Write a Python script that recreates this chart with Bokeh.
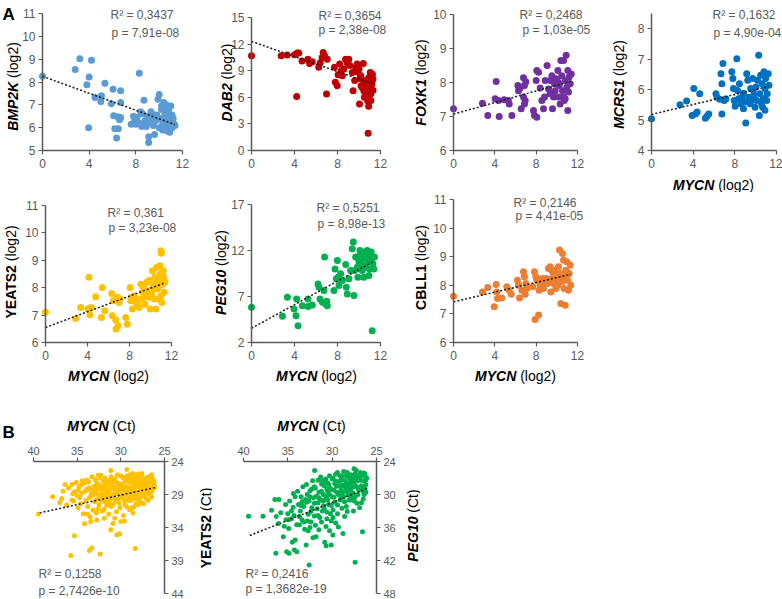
import math
from bokeh.plotting import figure
from bokeh.models import Range1d, FixedTicker, Label
from bokeh.layouts import column, row
from bokeh.embed import file_html
from bokeh.resources import INLINE

# ---------------- data ----------------
BMP2K_PTS = [(0,8.25),(2.8,8.55),(3.2,9.02),(4.2,8.95),(4.0,8.22),(3.8,7.88),(3.95,6.0),(4.5,7.32),(5.05,7.4),(5.0,7.15),(5.35,7.95),(6.05,7.68),(6.7,7.62),(5.9,7.05),(6.1,6.52),(6.45,6.48),(6.2,5.95),(6.5,5.95),(6.35,5.55),(6.7,6.45),(6.6,6.35),(6.7,7.1),(7.6,6.15),(7.8,6.5),(7.9,6.3),(8.0,6.15),(8.1,6.45),(8.3,6.2),(8.3,8.38),(8.5,6.05),(8.6,6.6),(8.7,7.2),(8.8,6.3),(8.9,6.05),(9.0,6.5),(9.1,5.6),(9.1,5.35),(9.2,6.25),(9.3,6.7),(9.4,6.45),(9.5,6.1),(9.6,5.7),(9.7,6.3),(9.8,6.55),(9.9,7.25),(10.0,6.0),(10.0,7.45),(10.1,6.4),(10.2,6.8),(10.3,6.2),(10.3,5.9),(10.4,7.1),(10.5,6.6),(10.5,6.05),(10.6,6.9),(10.6,7.0),(10.7,5.85),(10.7,6.3),(10.8,6.75),(10.8,6.1),(10.9,6.5),(10.9,5.8),(11.0,6.95),(11.0,6.2),(11.1,6.55),(11.1,6.0),(11.2,6.4),(11.3,6.15),(11.35,6.1),(10.4,6.45),(9.6,6.55),(8.6,6.15),(8.4,6.7),(10.2,6.95)]
DAB2_PTS = [(0,10.69),(2.76,10.69),(3.32,10.76),(4.0,10.8),(4.25,10.99),(4.4,11.0),(4.2,6.08),(4.7,10.1),(5.25,10.3),(5.4,9.8),(5.65,10.0),(6.26,9.38),(6.57,10.5),(6.67,11.06),(6.8,10.7),(7.05,10.3),(6.98,6.38),(6.4,9.9),(7.72,9.4),(7.8,7.7),(7.97,7.3),(8.06,8.55),(8.2,9.75),(8.35,9.0),(8.45,8.44),(8.6,9.2),(8.75,10.3),(8.9,9.9),(9.05,10.3),(9.15,9.6),(9.37,8.8),(9.45,6.75),(9.6,7.9),(9.7,9.4),(9.83,8.85),(10.0,9.2),(10.05,5.25),(10.15,8.45),(10.3,7.1),(10.4,9.8),(10.45,7.9),(10.5,6.0),(10.6,7.3),(10.7,6.75),(10.75,7.6),(10.8,5.6),(10.85,1.95),(10.9,8.2),(10.95,6.9),(11.05,8.8),(11.1,6.4),(11.2,7.5),(11.3,8.05),(11.1,5.65),(10.9,5.0),(10.65,6.1),(10.45,6.7),(10.2,7.3),(9.83,9.75),(10.1,8.1),(11.2,7.7),(11.3,6.8),(11.25,8.6),(11.0,7.4)]
FOXK1_PTS = [(0,7.23),(2.8,7.39),(3.32,7.03),(4.13,8.03),(4.03,7.52),(4.42,7.0),(4.35,7.47),(4.9,7.49),(5.3,7.47),(5.39,7.37),(5.65,7.03),(6.23,7.91),(6.29,7.76),(6.45,7.84),(6.55,7.23),(6.77,8.14),(6.87,7.91),(6.77,7.57),(6.94,7.47),(6.87,7.37),(7.0,8.02),(7.74,7.18),(7.84,7.03),(8.06,6.98),(8.0,8.06),(8.06,8.35),(8.23,8.3),(8.39,7.84),(8.55,7.47),(8.71,7.23),(8.81,7.57),(8.87,8.06),(9.06,8.5),(9.2,7.81),(9.35,7.67),(9.35,8.06),(9.52,8.2),(9.58,7.23),(9.68,7.57),(9.77,7.96),(9.84,7.76),(10.0,8.1),(10.1,8.35),(10.16,7.57),(10.23,7.91),(10.32,7.37),(10.39,8.65),(10.48,8.2),(10.55,7.76),(10.65,8.65),(10.71,7.47),(10.81,8.06),(10.9,8.8),(10.97,7.86),(11.06,8.35),(11.06,7.18),(11.13,7.72),(11.19,8.16),(11.3,7.96),(11.39,8.25),(10.65,7.57),(10.16,8.0),(9.9,8.1),(10.81,7.52)]
MCRS1_PTS = [(0,5.04),(2.73,5.5),(3.37,5.62),(4.06,6.03),(3.9,5.15),(4.22,5.2),(4.38,5.26),(4.63,5.86),(5.17,5.06),(5.33,5.12),(5.49,5.2),(6.19,5.86),(6.29,5.75),(6.54,5.68),(6.67,6.52),(6.76,6.19),(6.86,6.85),(6.76,5.2),(6.98,5.64),(7.14,5.69),(7.71,6.58),(7.81,6.36),(7.87,6.03),(7.94,5.64),(8.03,5.45),(8.19,7.01),(8.25,5.97),(8.35,5.7),(8.44,6.19),(8.57,5.53),(8.67,5.75),(8.83,5.88),(8.98,5.59),(9.05,4.9),(9.14,6.52),(9.24,6.3),(9.33,5.75),(9.46,5.53),(9.52,6.03),(9.62,5.64),(9.71,6.36),(9.84,5.81),(9.94,5.42),(10.03,6.08),(10.1,5.64),(10.19,6.3),(10.29,7.12),(10.35,5.15),(10.41,5.86),(10.48,6.47),(10.57,5.53),(10.63,6.19),(10.73,5.7),(10.79,6.58),(10.89,6.03),(10.95,6.36),(11.05,5.64),(11.11,5.86),(11.21,6.52),(11.27,6.14),(10.67,5.42),(10.89,5.32),(9.78,5.97),(8.83,5.37)]
YEATS2_PTS = [(0,7.1),(2.87,6.88),(3.34,7.28),(4.14,8.38),(4.04,7.22),(4.24,7.01),(4.36,7.28),(4.78,7.67),(5.32,6.91),(5.41,8.01),(5.64,7.16),(6.3,7.79),(6.37,6.98),(6.46,7.52),(6.69,6.82),(6.72,6.49),(6.91,6.61),(6.85,7.65),(7.0,7.46),(7.1,7.59),(7.64,6.91),(7.8,6.67),(8.06,8.01),(8.12,7.52),(8.18,7.65),(8.28,7.22),(8.44,7.71),(8.6,7.46),(8.76,7.59),(8.92,7.28),(9.08,8.13),(9.24,7.83),(9.33,8.01),(9.46,7.4),(9.55,7.71),(9.65,8.2),(9.71,7.89),(9.87,8.26),(9.97,7.22),(10.1,7.77),(10.19,8.62),(10.29,8.07),(10.35,7.59),(10.41,8.38),(10.51,7.22),(10.6,8.74),(10.67,7.95),(10.73,8.26),(10.83,7.59),(10.89,8.8),(10.92,8.5),(10.99,9.35),(11.05,9.26),(11.08,7.46),(11.15,8.13),(11.21,8.62),(11.27,8.38),(11.31,7.83),(11.37,8.2),(10.83,8.07),(10.51,8.2),(10.19,7.95),(9.87,7.65),(9.24,7.59),(8.76,7.4),(10.99,7.71)]
PEG10_PTS = [(0,5.82),(2.88,4.84),(3.34,6.92),(3.96,5.64),(4.14,4.91),(4.2,6.73),(4.33,3.82),(4.73,6.0),(5.26,6.73),(5.26,5.9),(5.66,6.08),(6.19,8.37),(6.28,8.0),(6.37,6.73),(6.6,6.37),(6.74,7.64),(6.8,11.28),(6.9,6.19),(7.0,6.48),(7.05,6.0),(7.67,7.64),(7.77,10.0),(7.9,8.92),(7.99,10.92),(8.05,9.1),(8.14,8.19),(8.29,9.46),(8.45,8.74),(8.76,10.48),(8.82,8.0),(8.91,7.28),(9.06,8.92),(9.22,9.83),(9.37,12.19),(9.47,12.92),(9.53,7.1),(9.59,9.83),(9.69,11.28),(9.84,10.19),(9.9,9.1),(10.0,10.74),(10.09,12.01),(10.15,10.0),(10.2,11.65),(10.3,11.1),(10.39,10.37),(10.45,9.1),(10.51,11.83),(10.61,10.19),(10.7,11.28),(10.76,12.01),(10.86,10.74),(10.92,11.65),(11.0,10.0),(11.07,11.1),(11.13,11.83),(11.23,3.28),(11.29,10.56),(11.38,10.0),(11.44,11.28),(9.84,11.28),(10.3,9.83),(10.92,9.28)]
CBLL1_PTS = [(0,7.62),(2.8,7.77),(3.32,7.92),(4.13,8.03),(4.19,7.77),(3.94,7.25),(4.26,7.54),(4.68,7.56),(5.16,7.95),(5.39,7.83),(5.58,7.69),(6.19,8.18),(6.29,8.0),(6.39,7.56),(6.61,7.83),(6.77,8.47),(6.87,8.3),(6.94,7.69),(7.1,7.89),(7.0,8.06),(7.68,7.95),(7.84,8.47),(7.9,6.8),(7.97,8.3),(8.06,8.18),(8.23,6.96),(8.29,7.83),(8.39,8.0),(8.55,8.24),(8.71,7.89),(8.81,8.12),(8.97,8.24),(9.1,8.06),(9.19,8.59),(9.35,8.65),(9.42,7.77),(9.52,8.24),(9.58,8.47),(9.68,8.06),(9.77,8.53),(9.84,8.18),(10.0,8.35),(10.1,8.0),(10.16,8.65),(10.26,9.23),(10.32,8.41),(10.39,7.36),(10.48,8.12),(10.55,9.11),(10.65,8.88),(10.71,7.89),(10.81,7.3),(10.87,8.53),(10.97,8.82),(11.03,8.18),(11.13,7.83),(11.19,8.41),(11.29,8.71),(11.35,8.0),(10.97,8.3),(10.65,8.3),(10.16,8.3),(9.9,7.89)]

YEATS2_CT_PTS = [(39.43,31.95),(37.82,29.35),(36.76,29.6),(36.37,27.5),(35.99,28.0),(35.61,29.85),(35.31,35.25),(35.73,38.25),(33.59,37.5),(33.32,37.1),(32.37,38.0),(28.36,37.2),(31.15,34.35),(30.46,35.1),(30.15,34.95),(30.0,33.1),(34.16,33.45),(33.44,33.1),(32.75,32.85),(31.15,25.35),(29.31,25.2),
 (36.2,30.6),(35.6,27.5),(35.3,28.6),(35.0,29.2),(34.8,27.9),(34.6,30.4),(34.5,28.8),(34.3,31.9),(34.2,27.3),(34.0,29.9),(35.4,30.0),(34.9,31.0),(34.4,26.9),(35.1,27.2),(34.7,29.5),
 (33.9,28.2),(33.8,30.8),(33.7,27.1),(33.6,29.5),(33.5,32.4),(33.4,28.6),(33.3,26.3),(33.2,31.4),(33.1,27.8),(33.0,30.1),(33.8,32.0),(33.4,29.2),(33.9,26.8),(33.1,29.0),
 (32.9,26.8),(32.8,28.9),(32.6,27.4),(32.5,30.6),(32.4,29.0),(32.3,26.1),(32.2,28.3),(32.1,31.5),(32.0,27.0),(32.9,29.9),(32.6,31.2),(32.3,27.9),(32.05,29.5),(32.7,28.1),(32.4,26.5),(32.2,30.0),
 (31.9,28.7),(31.8,26.5),(31.7,30.2),(31.6,27.6),(31.5,29.3),(31.4,32.0),(31.3,26.9),(31.2,28.1),(31.1,30.8),(31.9,31.2),(31.5,27.2),(31.3,29.9),(31.6,28.4),(31.1,26.3),(31.8,29.6),(31.4,27.0),(31.7,28.9),
 (30.9,27.8),(30.8,29.6),(30.7,26.6),(30.6,28.5),(30.5,31.6),(30.3,27.3),(30.2,29.0),(30.0,26.2),(30.9,30.5),(30.6,27.0),(30.4,28.9),(30.2,30.3),(30.0,28.0),(30.7,32.6),(30.8,26.9),(30.5,28.2),(30.1,27.5),(30.3,29.7),
 (29.9,27.4),(29.8,29.3),(29.7,26.5),(29.6,28.3),(29.5,30.6),(29.4,27.8),(29.3,29.8),(29.2,26.9),(29.1,28.7),(29.0,31.3),(29.0,27.1),(29.8,28.1),(29.6,30.0),(29.3,26.2),(29.1,29.5),(29.5,27.0),(29.7,32.2),(29.4,28.8),(29.9,26.3),(29.2,27.9),
 (28.9,26.6),(28.8,28.4),(28.7,27.3),(28.6,29.6),(28.5,26.1),(28.4,28.0),(28.3,30.4),(28.2,27.5),(28.1,29.0),(28.0,26.4),(28.9,29.9),(28.7,31.0),(28.5,27.8),(28.3,28.6),(28.1,26.9),(28.6,25.8),(28.0,30.5),(28.8,27.0),(28.4,29.2),(28.2,26.2),
 (27.9,27.1),(27.8,28.5),(27.7,26.2),(27.6,29.3),(27.5,27.6),(27.4,28.8),(27.3,26.6),(27.2,28.0),(27.1,29.6),(27.0,26.9),(27.9,29.8),(27.6,25.8),(27.4,30.4),(27.2,27.3),(27.0,28.3),(27.8,26.0),(27.5,28.9),(27.3,27.8),
 (26.9,27.5),(26.8,26.3),(26.7,28.6),(26.6,27.1),(26.5,29.4),(26.4,26.6),(26.3,28.0),(26.2,27.4),(26.1,27.9),(26.6,29.0),(26.9,29.9),(26.4,28.4),(26.8,27.0),(26.5,26.0),
 (32.8,27.5),(32.6,29.6),(32.4,27.7),(32.2,29.2),(32.0,28.4),(31.8,27.8),(31.6,30.6),(31.4,28.6),(31.2,29.4),(31.0,27.4),(31.0,29.0),(30.8,28.1),(30.6,30.0),(30.4,27.6),(30.2,28.3),(30.0,29.4),(29.8,27.7),(29.6,29.1),(29.4,26.6),(29.2,28.2),(29.0,29.9),(28.8,29.0),(28.6,27.0),(28.4,26.6),(28.2,29.6),(28.0,27.8),(27.8,27.3),(27.6,28.1),(27.4,27.0),(27.2,29.0),(27.0,27.6),(26.8,28.2),(26.6,26.5),(26.4,27.9),(26.2,26.9),(27.7,27.0),(28.9,28.0),(29.9,29.0),(30.9,29.1),(31.9,27.3),(32.9,28.6),(33.6,28.0),(34.1,28.5),(34.6,27.6),(33.2,28.2),(30.1,31.0),(29.3,30.9),(28.5,30.9),(27.7,30.2),(26.9,28.7),(27.1,26.5),(28.0,25.9),(29.0,26.0),(30.4,26.0),(32.6,26.1),(31.4,30.4),(32.8,31.8),(31.9,32.6),(30.9,33.4),(29.6,33.0),(28.6,31.8),(34.9,28.4),(35.5,28.9),(36.6,28.5),(37.0,30.2)]
PEG10_CT_PTS = [(39.43,33.94),(37.8,33.94),(36.84,32.86),(36.46,30.93),(36.0,30.93),(35.25,31.83),(36.08,35.27),(35.4,35.75),(35.51,37.67),(36.35,40.69),(35.13,40.39),(34.87,40.69),(34.26,40.08),(33.99,40.39),(34.49,38.7),(34.18,38.28),(32.93,39.18),(32.17,37.86),(31.82,37.67),(30.84,38.7),(30.68,39.3),(30.11,39.18),(29.92,37.37),(28.78,37.07),(32.59,42.8),(27.41,42.31),(26.58,36.77),(31.98,25.63),(27.53,25.33),
 (35.0,33.5),(34.8,31.2),(34.6,34.4),(34.4,32.3),(34.37,29.8),(34.18,30.4),(34.0,35.5),(34.9,36.2),(34.3,33.8),(35.2,34.6),
 (33.9,29.4),(33.8,31.8),(33.6,33.0),(33.5,30.4),(33.4,34.6),(33.3,28.6),(33.2,32.2),(33.1,36.3),(33.0,30.9),(33.7,35.5),(33.4,31.3),
 (32.9,28.2),(32.8,30.0),(32.7,33.6),(32.6,31.2),(32.5,29.3),(32.4,35.0),(32.3,32.4),(32.2,27.5),(32.1,30.6),(32.0,33.9),(32.8,34.8),(32.5,36.0),(32.3,29.0),(32.0,31.6),
 (31.9,28.8),(31.8,30.3),(31.7,32.6),(31.6,27.4),(31.5,29.6),(31.4,34.2),(31.3,31.0),(31.2,28.1),(31.1,33.0),(31.0,30.0),(31.9,35.6),(31.6,31.5),(31.3,26.8),(31.0,32.1),(31.5,36.4),
 (30.9,28.4),(30.8,30.9),(30.7,27.2),(30.6,33.2),(30.5,29.5),(30.4,31.8),(30.3,26.6),(30.2,28.9),(30.1,34.8),(30.0,30.4),(30.9,32.5),(30.7,35.8),(30.5,27.9),(30.3,30.0),(30.1,32.0),(30.6,29.0),
 (29.9,27.0),(29.8,29.2),(29.7,31.4),(29.6,26.3),(29.5,28.5),(29.4,33.5),(29.3,30.0),(29.2,27.6),(29.1,31.0),(29.0,28.9),(29.9,32.8),(29.6,35.2),(29.4,26.0),(29.2,29.7),(29.0,30.6),(29.7,28.0),
 (28.9,26.6),(28.8,28.3),(28.7,30.4),(28.6,27.4),(28.5,29.4),(28.4,32.2),(28.3,26.0),(28.2,28.7),(28.1,31.0),(28.0,27.3),(28.9,29.9),(28.6,34.0),(28.4,27.9),(28.2,30.0),(28.0,29.0),(28.7,25.8),
 (27.9,26.4),(27.8,28.0),(27.7,29.7),(27.6,27.0),(27.5,31.2),(27.4,26.2),(27.3,28.5),(27.2,27.5),(27.1,30.0),(27.0,26.8),(27.9,29.0),(27.6,33.0),(27.3,25.6),(27.1,28.8),(27.8,31.0),
 (26.9,27.2),(26.8,26.0),(26.7,28.4),(26.6,26.6),(26.5,29.4),(26.4,27.5),(26.3,26.3),(26.2,28.2),(26.1,27.0),(26.7,31.5),(26.4,30.0),(26.9,29.0),(26.2,29.6),
 (31.2,29.4),(31.0,31.2),(30.8,27.8),(30.6,30.3),(30.4,28.2),(30.2,33.5),(30.0,27.2),(29.8,30.5),(29.6,27.6),(29.4,31.9),(29.2,28.4),(29.0,27.4),(28.8,29.5),(28.6,31.3),(28.4,26.6),(28.2,29.3),(28.0,28.1),(27.8,26.6),(27.6,28.6),(27.4,30.4),(27.2,26.6),(27.0,29.2),(26.8,27.4),(26.6,28.9),(26.4,26.1),(26.2,27.3),(27.5,27.7),(28.5,28.6),(29.5,29.6),(30.5,31.0),(31.5,30.6),(32.5,30.4),(33.5,32.0),(32.9,31.4),(32.0,28.6),(31.1,27.4),(30.1,29.1),(29.1,26.6),(28.1,26.9),(27.1,27.4),(26.3,28.9),(27.9,30.4),(28.9,32.5),(29.9,34.2),(30.6,34.4),(31.6,33.8),(32.4,33.1),(33.2,35.0),(28.3,33.1),(27.2,31.6),(26.5,30.8),(26.9,32.4),(29.3,35.9),(30.3,36.6),(31.2,35.0),(32.7,36.6),(33.7,34.0),(34.6,33.0),(35.8,33.3),(34.9,34.6),(36.3,34.0)]

# trend lines: (intercept, slope)
TREND_BMP2K = (8.25, -0.186)
TREND_DAB2 = (12.3, -0.425)
TREND_FOXK1 = (7.07, 0.085)
TREND_MCRS1 = (5.18, 0.082)
TREND_YEATS2 = (6.55, 0.143)
TREND_PEG10 = (3.55, 0.64)
TREND_CBLL1 = (7.42, 0.085)
TREND_YEATS2_CT = (20.39, 0.29)
TREND_PEG10_CT = (12.04, 0.647)

STATS_BMP2K = ("R² = 0,3437", "p = 7,91e-08")
STATS_DAB2 = ("R² = 0,3654", "p = 2,38e-08")
STATS_FOXK1 = ("R² = 0,2468", "p = 1,03e-05")
STATS_MCRS1 = ("R² = 0,1632", "p = 4,90e-04")
STATS_YEATS2 = ("R² = 0,361", "p = 3,23e-08")
STATS_PEG10 = ("R² = 0,5251", "p = 8,98e-13")
STATS_CBLL1 = ("R² = 0,2146", "p = 4,41e-05")
STATS_YEATS2_CT = ("R² = 0,1258", "p = 2,7426e-10")
STATS_PEG10_CT = ("R² = 0,2416", "p = 1,3682e-19")

LOG_TICKS_X = [0, 4, 8, 12]
CT_TICKS_X = [40, 35, 30, 25]

# ---------------- styling ----------------
FONT = "Liberation Sans"
GRAY = "#595959"
W_BOLD = {"A": .722, "B": .722, "C": .722, "D": .722, "E": .667, "F": .611, "G": .778, "K": .722,
          "L": .611, "M": .833, "N": .722, "O": .778, "P": .667, "R": .722, "S": .667, "T": .611,
          "X": .667, "Y": .667, "0": .556, "1": .556, "2": .556}
W_REG = {"(": .333, ")": .333, "l": .222, "o": .556, "g": .556, "2": .556, "C": .722, "t": .278, " ": .278}


def tw(s, size, table):
    return sum(table.get(c, .6) for c in s) * size


def mapping(X0, X1, x0, x1, YT, YB, yt, yb):
    """page pixel -> data, for one panel"""
    def conv(px, py):
        return (x0 + (px - X0) * (x1 - x0) / (X1 - X0), yt + (py - YT) * (yb - yt) / (YB - YT))
    return conv


def two_part(p, conv, gene, gstyle, unit, cx, cy, rotated, size=14):
    wg = tw(gene, size, W_BOLD)
    wu = tw(unit, size, W_REG)
    sp = 0.278 * size
    total = wg + sp + wu
    if rotated:
        jy = cy + total / 2 - wg
        gx, gy = conv(cx, jy)
        ux, uy = conv(cx, jy - sp)
        ang = math.pi / 2
    else:
        jx = cx - total / 2 + wg
        gx, gy = conv(jx, cy)
        ux, uy = conv(jx + sp, cy)
        ang = 0
    p.add_layout(Label(x=gx, y=gy, text=gene, angle=ang, text_align="right", text_baseline="middle",
                       text_font=FONT, text_font_size=f"{size}px", text_font_style=gstyle, text_color="black"))
    p.add_layout(Label(x=ux, y=uy, text=unit, angle=ang, text_align="left", text_baseline="middle",
                       text_font=FONT, text_font_size=f"{size}px", text_font_style="normal", text_color="black"))


def style_axis(ax, ticks, fsize, standoff):
    ax.ticker = FixedTicker(ticks=ticks)
    ax.axis_line_color = GRAY
    ax.axis_line_width = 1.5
    ax.major_tick_line_color = GRAY
    ax.major_tick_line_width = 1.2
    ax.major_tick_out = 4
    ax.major_tick_in = 0
    ax.minor_tick_line_color = None
    ax.major_label_text_font = FONT
    ax.major_label_text_font_size = fsize
    ax.major_label_text_color = GRAY
    ax.major_label_standoff = standoff


def panel(pts, color, msize, box, frame, vals, yticks, ybounds, trend, gene, gstyle, unit,
          ylab, xlab, stats, stats_xy, kind, letter=None):
    FL, FT, FR, FB = box            # page box of this canvas
    X0, X1, YT, YB = frame          # page pixels where the reference values sit
    x0, x1, yt, yb = vals           # the reference values
    conv = mapping(X0, X1, x0, x1, YT, YB, yt, yb)
    xs0, ytop = conv(FL, FT)
    xs1, ybot = conv(FR, FB)
    A = kind == "A"
    p = figure(width=FR - FL, height=FB - FT, x_range=Range1d(xs0, xs1), y_range=Range1d(ybot, ytop),
               x_axis_location="below" if A else "above", y_axis_location="left" if A else "right",
               output_backend="svg", toolbar_location=None, title=None, min_border=0)
    p.outline_line_color = None
    p.xgrid.visible = False
    p.ygrid.visible = False
    p.background_fill_color = "white"
    p.border_fill_color = "white"
    p.xaxis.fixed_location = yb if A else yt
    p.yaxis.fixed_location = x0 if A else x1
    p.xaxis.bounds = (min(x0, x1), max(x0, x1))
    p.yaxis.bounds = ybounds
    style_axis(p.xaxis[0], LOG_TICKS_X if A else CT_TICKS_X, "12px" if A else "11px", 4 if A else 3)
    style_axis(p.yaxis[0], yticks, "12px" if A else "11px", 3)
    xs = [a for a, b in pts]
    ys = [b for a, b in pts]
    p.scatter(xs, ys, size=msize, fill_color=color, line_color=None)
    a, b = trend
    tx = [min(xs), max(xs)]
    p.line(tx, [a + b * v for v in tx], line_color="#1a1a1a", line_width=1.5, line_dash="2 2")
    two_part(p, conv, gene, gstyle, unit, ylab[0], ylab[1], True)
    if xlab:
        two_part(p, conv, "MYCN", "bold italic", unit, xlab[0], xlab[1], False)
    for txt, (px, py) in zip(stats, stats_xy):
        lx, ly = conv(px, py)
        p.add_layout(Label(x=lx, y=ly, text=txt, text_align="left", text_baseline="middle",
                           text_font=FONT, text_font_size="12px", text_color=GRAY))
    if letter:
        lx, ly = conv(letter[1], letter[2])
        p.add_layout(Label(x=lx, y=ly, text=letter[0], text_align="left", text_baseline="alphabetic",
                           text_font=FONT, text_font_size="17px", text_font_style="bold", text_color="black"))
    return p


R1, R2, R3 = (0, 192), (192, 386), (386, 599)

p1 = panel(BMP2K_PTS, "#5B9BD5", 7, (0, R1[0], 210, R1[1]), (42, 182, 13, 150), (0, 12, 11, 5),
           [5, 6, 7, 8, 9, 10, 11], (5, 11), TREND_BMP2K, "BMP2K", "bold italic", "(log2)",
           (12, 86), None, STATS_BMP2K, [(110, 14), (111, 32)], "A", letter=("A", 2, 14))
p2 = panel(DAB2_PTS, "#C00000", 7, (210, R1[0], 410, R1[1]), (251, 380, 17, 150), (0, 12, 15, 0),
           [0, 3, 6, 9, 12, 15], (0, 15), TREND_DAB2, "DAB2", "bold italic", "(log2)",
           (226, 82), None, STATS_DAB2, [(318, 15), (318, 29)], "A")
p3 = panel(FOXK1_PTS, "#7030A0", 7, (410, R1[0], 608, R1[1]), (453, 577, 14, 150), (0, 12, 10, 6),
           [6, 7, 8, 9, 10], (6, 10), TREND_FOXK1, "FOXK1", "bold italic", "(log2)",
           (420, 82), None, STATS_FOXK1, [(519, 14), (522, 29)], "A")
p4 = panel(MCRS1_PTS, "#0070C0", 7, (608, R1[0], 782, R1[1]), (651, 776, 28, 150), (0, 12, 8, 4),
           [4, 5, 6, 7, 8], (4, 8.5), TREND_MCRS1, "MCRS1", "bold italic", "(log2)",
           (618, 84), (713, 184), STATS_MCRS1, [(712, 14), (713, 32)], "A")

p5 = panel(YEATS2_PTS, "#FFC000", 7, (0, R2[0], 210, R2[1]), (45, 171, 205, 342), (0, 12, 11, 6),
           [6, 7, 8, 9, 10, 11], (6, 11), TREND_YEATS2, "YEATS2", "bold", "(log2)",
           (10, 272), (108, 375), STATS_YEATS2, [(107, 212), (108, 227)], "A")
p6 = panel(PEG10_PTS, "#00B050", 7, (210, R2[0], 410, R2[1]), (251, 380, 204, 342), (0, 12, 17, 2),
           [2, 7, 12, 17], (2, 17), TREND_PEG10, "PEG10", "bold italic", "(log2)",
           (220, 272), (316, 375), STATS_PEG10, [(316, 207), (317, 223)], "A")
p7 = panel(CBLL1_PTS, "#ED7D31", 7, (410, R2[0], 608, R2[1]), (453, 577, 199, 342), (0, 12, 11, 6),
           [6, 7, 8, 9, 10, 11], (6, 11), TREND_CBLL1, "CBLL1", "bold", "(log2)",
           (420, 267), (515, 375), STATS_CBLL1, [(513, 202), (515, 215)], "A")

b1 = panel(YEATS2_CT_PTS, "#FFC000", 5, (0, R3[0], 212, R3[1]), (33, 164, 461, 593), (40, 25, 24, 44),
           [24, 29, 34, 39, 44], (24, 44), TREND_YEATS2_CT, "YEATS2", "bold", "(Ct)",
           (205, 528), (101, 425), STATS_YEATS2_CT, [(38, 573), (38, 590)], "B", letter=("B", 2, 432))
b2 = panel(PEG10_CT_PTS, "#00B050", 5, (212, R3[0], 420, R3[1]), (243, 376, 461, 593), (40, 25, 24, 48),
           [24, 30, 36, 42, 48], (24, 48), TREND_PEG10_CT, "PEG10", "bold italic", "(Ct)",
           (412, 525), (311, 425), STATS_PEG10_CT, [(245, 573), (245, 588)], "B")

layout = column(row(p1, p2, p3, p4), row(p5, p6, p7), row(b1, b2))
open("out.html", "w").write(file_html(layout, INLINE))
